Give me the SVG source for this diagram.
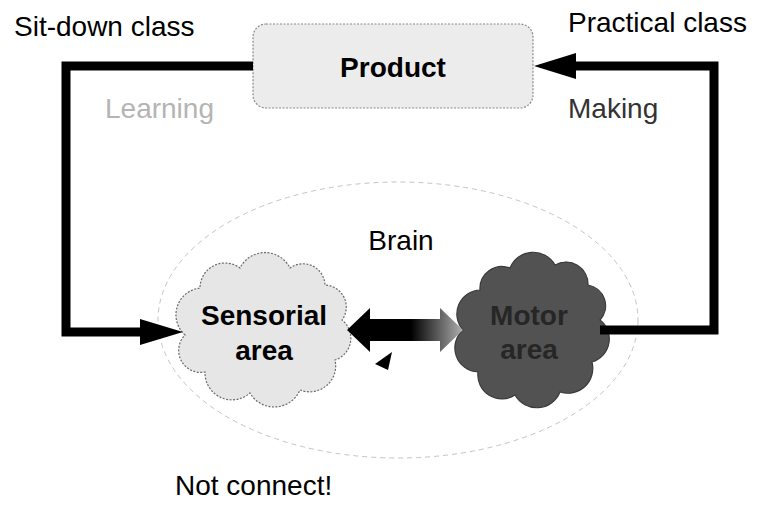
<svg xmlns="http://www.w3.org/2000/svg" width="757" height="520" viewBox="0 0 757 520">
  <style>
    .lbl { font-family: "Liberation Sans", Arial, sans-serif; font-size: 28px; fill: #000; }
    .bold { font-weight: bold; }
    .mid { text-anchor: middle; }
    .wire { fill: none; stroke: #000; stroke-width: 9; stroke-linejoin: miter; }
    .head { fill: #000; }
  </style>
  <defs>
    <linearGradient id="fade" x1="347" y1="0" x2="463" y2="0" gradientUnits="userSpaceOnUse">
      <stop offset="0" stop-color="#000"/>
      <stop offset="0.55" stop-color="#000"/>
      <stop offset="1" stop-color="#b0b0b0"/>
    </linearGradient>
  </defs>

  <rect width="757" height="520" fill="#fff"/>

  <!-- outer labels -->
  <text class="lbl" x="14" y="36">Sit-down class</text>
  <text class="lbl" x="568" y="32">Practical class</text>
  <text class="lbl" x="105" y="118" style="fill:#b4b4b4">Learning</text>
  <text class="lbl" x="568" y="118" style="fill:#333">Making</text>
  <text class="lbl" x="175" y="495">Not connect!</text>

  <!-- brain region -->
  <g id="brain">
    <ellipse cx="398" cy="320" rx="240" ry="138" fill="none" stroke="#c4c4c4" stroke-width="1" stroke-dasharray="5 4"/>
    <text class="lbl mid" x="401" y="250">Brain</text>
  </g>

  <!-- product box -->
  <g id="product">
    <rect x="253" y="24" width="280" height="84" rx="13" ry="13" fill="#ececec" stroke="#8a8a8a" stroke-width="1.2" stroke-dasharray="2 1.5"/>
    <text class="lbl bold mid" x="393" y="77">Product</text>
  </g>

  <!-- sensorial area cloud -->
  <g id="sensorial">
    <path d="M185,335 A27,27 0 0 1 200,288 A25,25 0 0 1 240,268 A28,28 0 0 1 290,268 A22,22 0 0 1 325,285 A22,22 0 0 1 342,320 A23,23 0 0 1 335,360 A26,26 0 0 1 300,390 A28,28 0 0 1 250,393 A27,27 0 0 1 205,372 A22,22 0 0 1 185,335 Z" fill="#e6e6e6" stroke="#6a6a6a" stroke-width="1.2" stroke-dasharray="2 1.5"/>
    <text class="lbl bold mid" x="264" y="325">Sensorial</text>
    <text class="lbl bold mid" x="264" y="360">area</text>
  </g>

  <!-- motor area cloud -->
  <g id="motor">
    <path d="M463,330 A24,24 0 0 1 480,290 A22,22 0 0 1 510,268 A25,25 0 0 1 555,265 A22,22 0 0 1 588,285 A21,21 0 0 1 600,320 A24,24 0 0 1 592,362 A25,25 0 0 1 560,392 A25,25 0 0 1 515,395 A24,24 0 0 1 478,372 A24,24 0 0 1 463,330 Z" fill="#525252" stroke="#3a3a3a" stroke-width="1.2"/>
    <text class="lbl bold mid" x="529" y="325" style="fill:#262626">Motor</text>
    <text class="lbl bold mid" x="529" y="359" style="fill:#262626">area</text>
  </g>

  <!-- connectors -->
  <g id="connectors">
    <!-- learning loop: product back to sensorial area -->
    <polyline class="wire" points="253,66 66,66 66,332 145,332"/>
    <polygon class="head" points="183,332 140,319 140,345"/>
    <!-- making loop: motor area up to product -->
    <polyline class="wire" points="600,330 714,330 714,66 570,66"/>
    <polygon class="head" points="534,66 576,53 576,79"/>
    <!-- two-way link between the areas -->
    <polygon points="347,330 370,308 370,319 440,319 440,308 463,330 440,352 440,341 370,341 370,352" fill="url(#fade)"/>
    <polygon class="head" points="375,364 392,352 388,370"/>
  </g>
</svg>
